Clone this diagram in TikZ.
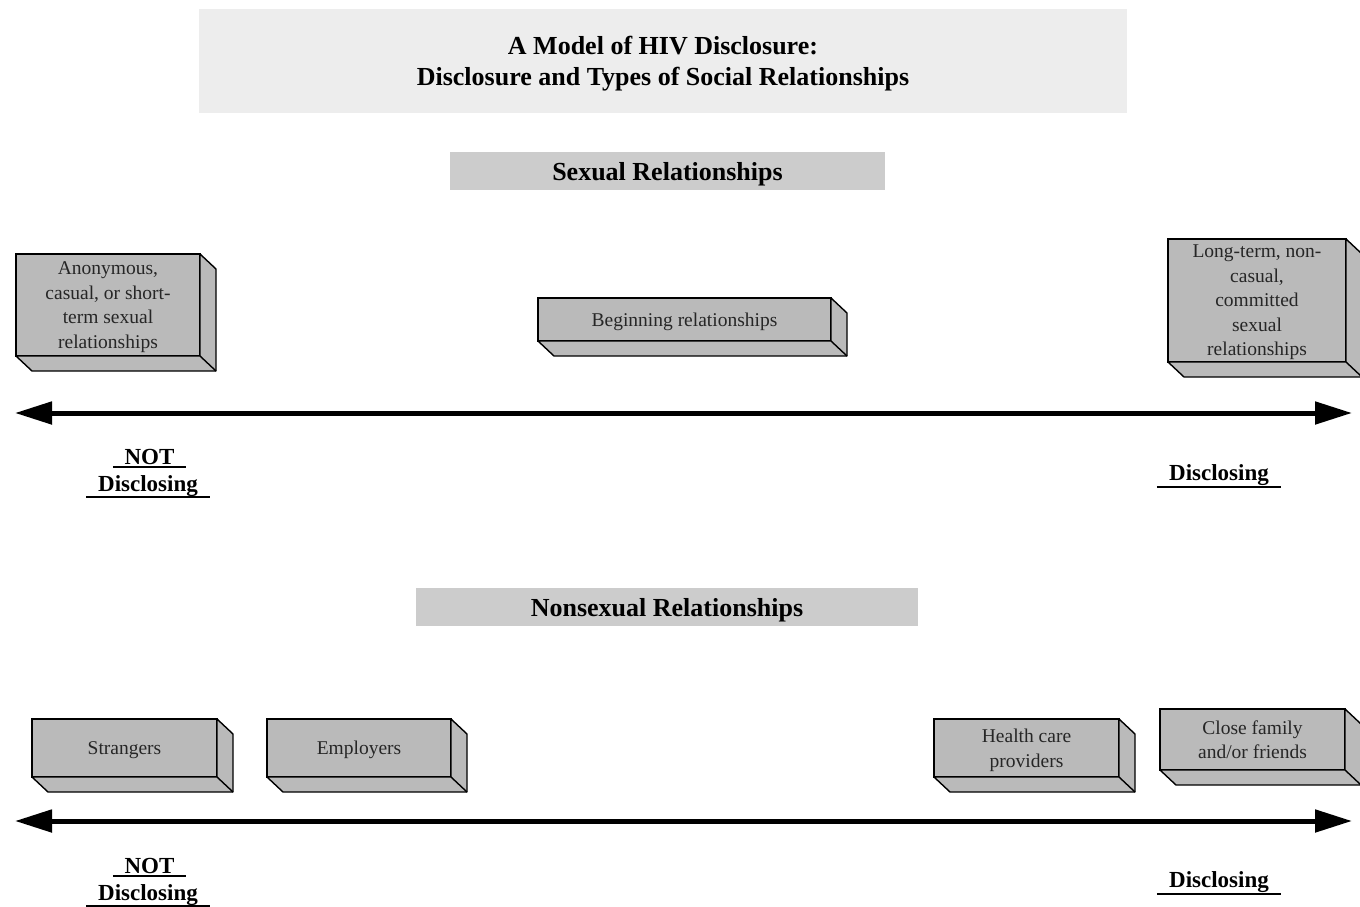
\documentclass[tikz,border=0pt]{standalone}
\usepackage{fontspec}
\setmainfont{Liberation Serif}
\usetikzlibrary{arrows.meta}
\usetikzlibrary{calc}

\begin{document}
\begin{tikzpicture}[x = 1pt, y = -1pt]
	\tikzstyle{titleStyle} = [fill = black!7, align = center, text depth = 0pt, font = \fontsize{26}{31}\selectfont\bfseries]
	\tikzstyle{headStyle} = [fill = black!20, minimum height = 38pt, text depth = 0pt, font = \fontsize{26}{31}\selectfont\bfseries]
	\tikzstyle{relStyle} = [draw, line width = 1.4pt, fill = black!27, outer sep = 0pt, align = center, text depth = 0pt, text = black!85, font = \fontsize{19.5}{24.5}\selectfont]
	\tikzstyle{sideStyle} = [draw, line width = 1.4pt, fill = black!27, line join = round]
	\tikzstyle{labelStyle} = [anchor = base, inner sep = 0pt, font = \fontsize{23}{28}\selectfont\bfseries]
	\tikzstyle{ulineStyle} = [line width = 1.3pt]
	\tikzstyle{axisStyle} = [line width = 5pt, {Triangle[length = 37pt, width = 22pt]}-{Triangle[length = 37pt, width = 22pt]}]
	\useasboundingbox (0,0) rectangle (1360,907);
	\node[titleStyle, minimum width = 928pt, minimum height = 104pt] (title) at (663,61) {A Model of HIV Disclosure:\\Disclosure and Types of Social Relationships};
	\node[headStyle, minimum width = 435pt] (sexual) at (667.5,171) {Sexual Relationships};
	\node[headStyle, minimum width = 502pt] (nonsexual) at (667,607) {Nonsexual Relationships};
	\node[relStyle, minimum width = 184pt, minimum height = 102pt] (anon) at (108,305) {Anonymous,\\casual, or short-\\term sexual\\relationships};
	\node[relStyle, minimum width = 293pt, minimum height = 43pt] (begin) at (684.5,319.5) {Beginning relationships};
	\node[relStyle, minimum width = 178pt, minimum height = 123pt] (longterm) at (1257,300.5) {Long-term, non-\\casual,\\committed\\sexual\\relationships};
	\node[relStyle, minimum width = 185pt, minimum height = 58pt] (strangers) at (124.5,748) {Strangers};
	\node[relStyle, minimum width = 184pt, minimum height = 58pt] (employers) at (359,748) {Employers};
	\node[relStyle, minimum width = 185pt, minimum height = 58pt] (health) at (1026.5,748) {Health care\\providers};
	\node[relStyle, minimum width = 185pt, minimum height = 61pt] (family) at (1252.5,739.5) {Close family\\and/or friends};
	\foreach \b in {anon, begin, longterm, strangers, employers, health, family} {
		\draw[sideStyle] (\b.north east) -- ++(16,15) -- ($(\b.south east)+(16,15)$) -- ($(\b.south west)+(16,15)$) -- (\b.south west) -- (\b.south east) -- cycle;
		\draw[sideStyle] (\b.south east) -- ++(16,15);
	}
	\coordinate (sexL) at (15,413);
	\coordinate (sexR) at (1352,413);
	\coordinate (nonL) at (15,821);
	\coordinate (nonR) at (1352,821);
	\draw[axisStyle] (sexL) -- (sexR);
	\draw[axisStyle] (nonL) -- (nonR);
	\node[labelStyle, minimum width = 73pt] (sexNot) at (149.5,464) {NOT};
	\node[labelStyle, minimum width = 123pt] (sexNotDis) at (148,491) {Disclosing};
	\node[labelStyle, minimum width = 124pt] (sexDis) at (1219,480) {Disclosing};
	\node[labelStyle, minimum width = 73pt] (nonNot) at (149.5,873) {NOT};
	\node[labelStyle, minimum width = 123pt] (nonNotDis) at (148,900) {Disclosing};
	\node[labelStyle, minimum width = 124pt] (nonDis) at (1219,887) {Disclosing};
	\draw[ulineStyle] ([yshift = -3pt]sexNot.base west) -- ([yshift = -3pt]sexNot.base east);
	\draw[ulineStyle] ([yshift = -6pt]sexNotDis.base west) -- ([yshift = -6pt]sexNotDis.base east);
	\draw[ulineStyle] ([yshift = -7pt]sexDis.base west) -- ([yshift = -7pt]sexDis.base east);
	\draw[ulineStyle] ([yshift = -3pt]nonNot.base west) -- ([yshift = -3pt]nonNot.base east);
	\draw[ulineStyle] ([yshift = -6pt]nonNotDis.base west) -- ([yshift = -6pt]nonNotDis.base east);
	\draw[ulineStyle] ([yshift = -7pt]nonDis.base west) -- ([yshift = -7pt]nonDis.base east);
\end{tikzpicture}
\end{document}
